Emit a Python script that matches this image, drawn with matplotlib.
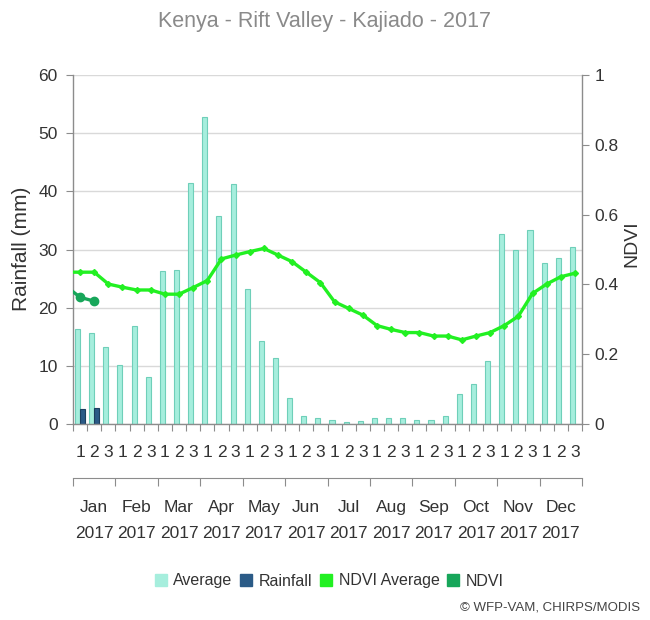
import numpy as np
import matplotlib
matplotlib.use("Agg")
import matplotlib.pyplot as plt
from matplotlib import font_manager
from matplotlib.lines import Line2D

# --- data ---
months = ["Jan", "Feb", "Mar", "Apr", "May", "Jun",
          "Jul", "Aug", "Sep", "Oct", "Nov", "Dec"]
year = "2017"
dekads = ["1", "2", "3"] * 12

# long-term average rainfall per dekad (mm)
avg_rain = [16.3, 15.6, 13.3, 10.2, 16.8, 8.0,
            26.3, 26.5, 41.5, 52.7, 35.8, 41.2,
            23.2, 14.2, 11.3, 4.5, 1.3, 1.0,
            0.7, 0.4, 0.6, 1.0, 1.0, 1.0,
            0.7, 0.7, 1.4, 5.1, 6.8, 10.8,
            32.7, 29.9, 33.3, 27.6, 28.5, 30.5]
# 2017 rainfall (only first dekads available)
rainfall = [2.5, 2.7]

# NDVI average; first value is the last dekad of the previous year
ndvi_avg = [0.435,
            0.435, 0.435, 0.401, 0.392, 0.384, 0.384,
            0.372, 0.372, 0.391, 0.411, 0.473, 0.484,
            0.494, 0.503, 0.484, 0.465, 0.435, 0.405,
            0.350, 0.331, 0.312, 0.282, 0.271, 0.262,
            0.262, 0.252, 0.252, 0.241, 0.252, 0.262,
            0.282, 0.309, 0.374, 0.401, 0.422, 0.432]
# NDVI 2017; first value is the last dekad of the previous year
ndvi = [0.395, 0.363, 0.352]

# --- style ---
names = {f.name for f in font_manager.fontManager.ttflist}
if "Liberation Sans Narrow" in names:
    plt.rcParams["font.family"] = ["Liberation Sans Narrow", "DejaVu Sans"]
else:
    plt.rcParams["font.family"] = ["Liberation Sans", "DejaVu Sans"]

txt = "#333333"
axis_col = "#8c8c8c"
grid_col = "#d9d9d9"
avg_fill, avg_edge = "#a6eedd", "#6fcfb9"
rain_fill, rain_edge = "#2b5b87", "#1d3f5f"
ndvi_avg_col = "#22f022"
ndvi_col = "#17a65a"

fig = plt.figure(figsize=(6.5, 6.2), dpi=100)
L, R = 73 / 650, 582 / 650
B, T = 1 - 424 / 620, 1 - 75 / 620
ax = fig.add_axes([L, B, R - L, T - B])
ax2 = ax.twinx()

x = np.arange(len(avg_rain)) + 0.5
w = 0.36
ax.bar(x - w / 2, avg_rain, width=w, color=avg_fill, edgecolor=avg_edge,
       linewidth=0.8, zorder=2)
ax.bar(x[:len(rainfall)] + w / 2, rainfall, width=w, color=rain_fill,
       edgecolor=rain_edge, linewidth=0.8, zorder=2)

xl = np.arange(len(ndvi_avg)) - 0.5
ax2.plot(xl, ndvi_avg, color=ndvi_avg_col, lw=2.4, marker="D", ms=3,
         zorder=3)
xn = np.arange(len(ndvi)) - 0.5
ax2.plot(xn, ndvi, color=ndvi_col, lw=2.4, marker="o", ms=6, zorder=4)

ax.set_xlim(0, 36)
ax.set_ylim(0, 60)
ax2.set_ylim(0, 1)
ax.set_yticks(np.arange(0, 61, 10))
ax2.set_yticks([0, 0.2, 0.4, 0.6, 0.8, 1.0])
ax2.set_yticklabels(["0", "0.2", "0.4", "0.6", "0.8", "1"])
ax.yaxis.grid(True, color=grid_col, lw=1)
ax.set_axisbelow(True)

for a in (ax, ax2):
    for s in a.spines.values():
        s.set_visible(False)
ax.spines["left"].set_visible(True)
ax.spines["bottom"].set_visible(True)
ax2.spines["right"].set_visible(True)
for s in (ax.spines["left"], ax.spines["bottom"], ax2.spines["right"]):
    s.set_color(axis_col)
    s.set_linewidth(1)

ax.tick_params(axis="y", length=5, color=axis_col, labelsize=12.5,
               labelcolor=txt, pad=6)
ax2.tick_params(axis="y", length=5, color=axis_col, labelsize=12.5,
                labelcolor=txt, pad=4)

# dekad axis
ax.set_xticks(np.arange(0, 37))
ax.set_xticklabels([])
ax.set_xticks(x, minor=True)
ax.set_xticklabels(dekads, minor=True)
ax.tick_params(axis="x", which="major", length=5, color=axis_col)
ax.tick_params(axis="x", which="minor", length=0, labelsize=12.5,
               labelcolor=txt, pad=15)

# month axis below
my = 1 - 478 / 620
mx = fig.add_axes([L, my, R - L, 0.0001])
mx.set_xlim(0, 36)
mx.set_yticks([])
for s in ("left", "right", "top"):
    mx.spines[s].set_visible(False)
mx.spines["bottom"].set_color(axis_col)
mx.set_xticks(np.arange(0, 37, 3))
mx.set_xticklabels([])
mx.set_xticks(np.arange(1.5, 36, 3), minor=True)
mx.set_xticklabels([m + "\n" + year for m in months], minor=True,
                   linespacing=1.9)
mx.tick_params(axis="x", which="major", length=6, color=axis_col)
mx.tick_params(axis="x", which="minor", length=0, labelsize=12.5,
               labelcolor=txt, pad=16)

fig.text(0.5, 1 - 22 / 620, "Kenya - Rift Valley - Kajiado - 2017",
         ha="center", va="center", fontsize=15.5, color="#8a8a8a")
fig.text(22 / 650, 1 - 249 / 620, "Rainfall (mm)", rotation=90,
         ha="center", va="center", fontsize=15, color=txt)
fig.text(632 / 650, 1 - 244 / 620, "NDVI", rotation=90,
         ha="center", va="center", fontsize=14, color=txt)

handles = [Line2D([], [], ls="none", marker="s", ms=8.5, color=c)
           for c in (avg_fill, rain_fill, ndvi_avg_col, ndvi_col)]
fig.legend(handles, ["Average", "Rainfall", "NDVI Average", "NDVI"],
           loc="center", bbox_to_anchor=(0.507, 1 - 581 / 620), ncol=4,
           frameon=False, fontsize=11.5, handlelength=0.7,
           handletextpad=0.45, columnspacing=0.5, labelcolor=txt)
fig.text(640 / 650, 1 - 608 / 620, "\u00a9 WFP-VAM, CHIRPS/MODIS",
         ha="right", va="center", fontsize=9.5, color="#444444")

fig.savefig("out.png", dpi=100)
